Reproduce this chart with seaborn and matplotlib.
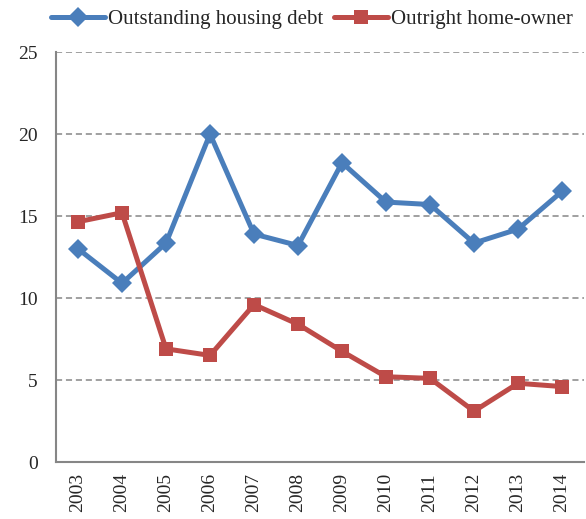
import matplotlib
matplotlib.use('Agg')
import matplotlib.pyplot as plt
import seaborn as sns
import pandas as pd
import numpy as np

# ─── DATA ─────────────────────────────────────────────────────────────────────
years = ['2003', '2004', '2005', '2006', '2007', '2008',
         '2009', '2010', '2011', '2012', '2013', '2014']
housing_debt = [13.0, 10.9, 13.35, 20.0, 13.9, 13.2, 18.25, 15.85, 15.7, 13.35, 14.2, 16.5]
home_owner   = [14.65, 15.2, 6.9, 6.5, 9.6, 8.4, 6.75, 5.2, 5.1, 3.1, 4.8, 4.6]
series_names = ['Outstanding housing debt', 'Outright home-owner']
y_ticks = [0, 5, 10, 15, 20, 25]

# ─── STYLE ────────────────────────────────────────────────────────────────────
sns.set_style('white')
plt.rcParams['font.family'] = ['Liberation Serif', 'DejaVu Serif']
BLUE = '#4A7EBB'
RED = '#BE4B48'
GREY = '#868686'

df = pd.DataFrame({
    'pos': list(range(len(years))) * 2,
    'value': housing_debt + home_owner,
    'series': [series_names[0]] * len(years) + [series_names[1]] * len(years),
})

fig = plt.figure(figsize=(5.86, 5.19), dpi=100)
ax = fig.add_axes([0.0956, 0.1098, 0.901, 0.79])

sns.lineplot(data=df, x='pos', y='value', hue='series', style='series',
             palette=[BLUE, RED], markers=['D', 's'], dashes=False,
             linewidth=3.6, markersize=10.5, markeredgewidth=0, ax=ax)

# gridlines
for t in y_ticks[1:]:
    ax.axhline(t, color=GREY, linestyle=(0, (4, 2.5)), linewidth=1.1, zorder=0)

ax.set_xlim(-0.5, len(years) - 0.5)
ax.set_ylim(0, 25)
ax.set_yticks(y_ticks)
ax.set_yticklabels([str(t) for t in y_ticks], fontsize=14)

# category labels at centres, ticks at boundaries (Excel style)
ax.set_xticks(np.arange(len(years)))
ax.set_xticklabels(years, rotation=90, fontsize=14)
ax.set_xticks(np.arange(-0.5, len(years)), minor=True)
ax.tick_params(axis='x', which='major', length=0, pad=8)
ax.tick_params(axis='x', which='minor', length=5, color=GREY, width=1.5, direction='out')
ax.tick_params(axis='y', length=5, color=GREY, width=1.5, direction='out', pad=8)
ax.set_xlabel('')
ax.set_ylabel('')

for side in ['top', 'right']:
    ax.spines[side].set_visible(False)
for side in ['left', 'bottom']:
    ax.spines[side].set_color(GREY)
    ax.spines[side].set_linewidth(1.5)

handles, labels = ax.get_legend_handles_labels()
ax.legend(handles, labels, loc='lower center', bbox_to_anchor=(0.485, 1.055),
          ncol=2, frameon=False, fontsize=15, handlelength=2.6,
          handletextpad=0.15, columnspacing=0.5, borderaxespad=0,
          borderpad=0)

fig.savefig('out.png', dpi=100)
